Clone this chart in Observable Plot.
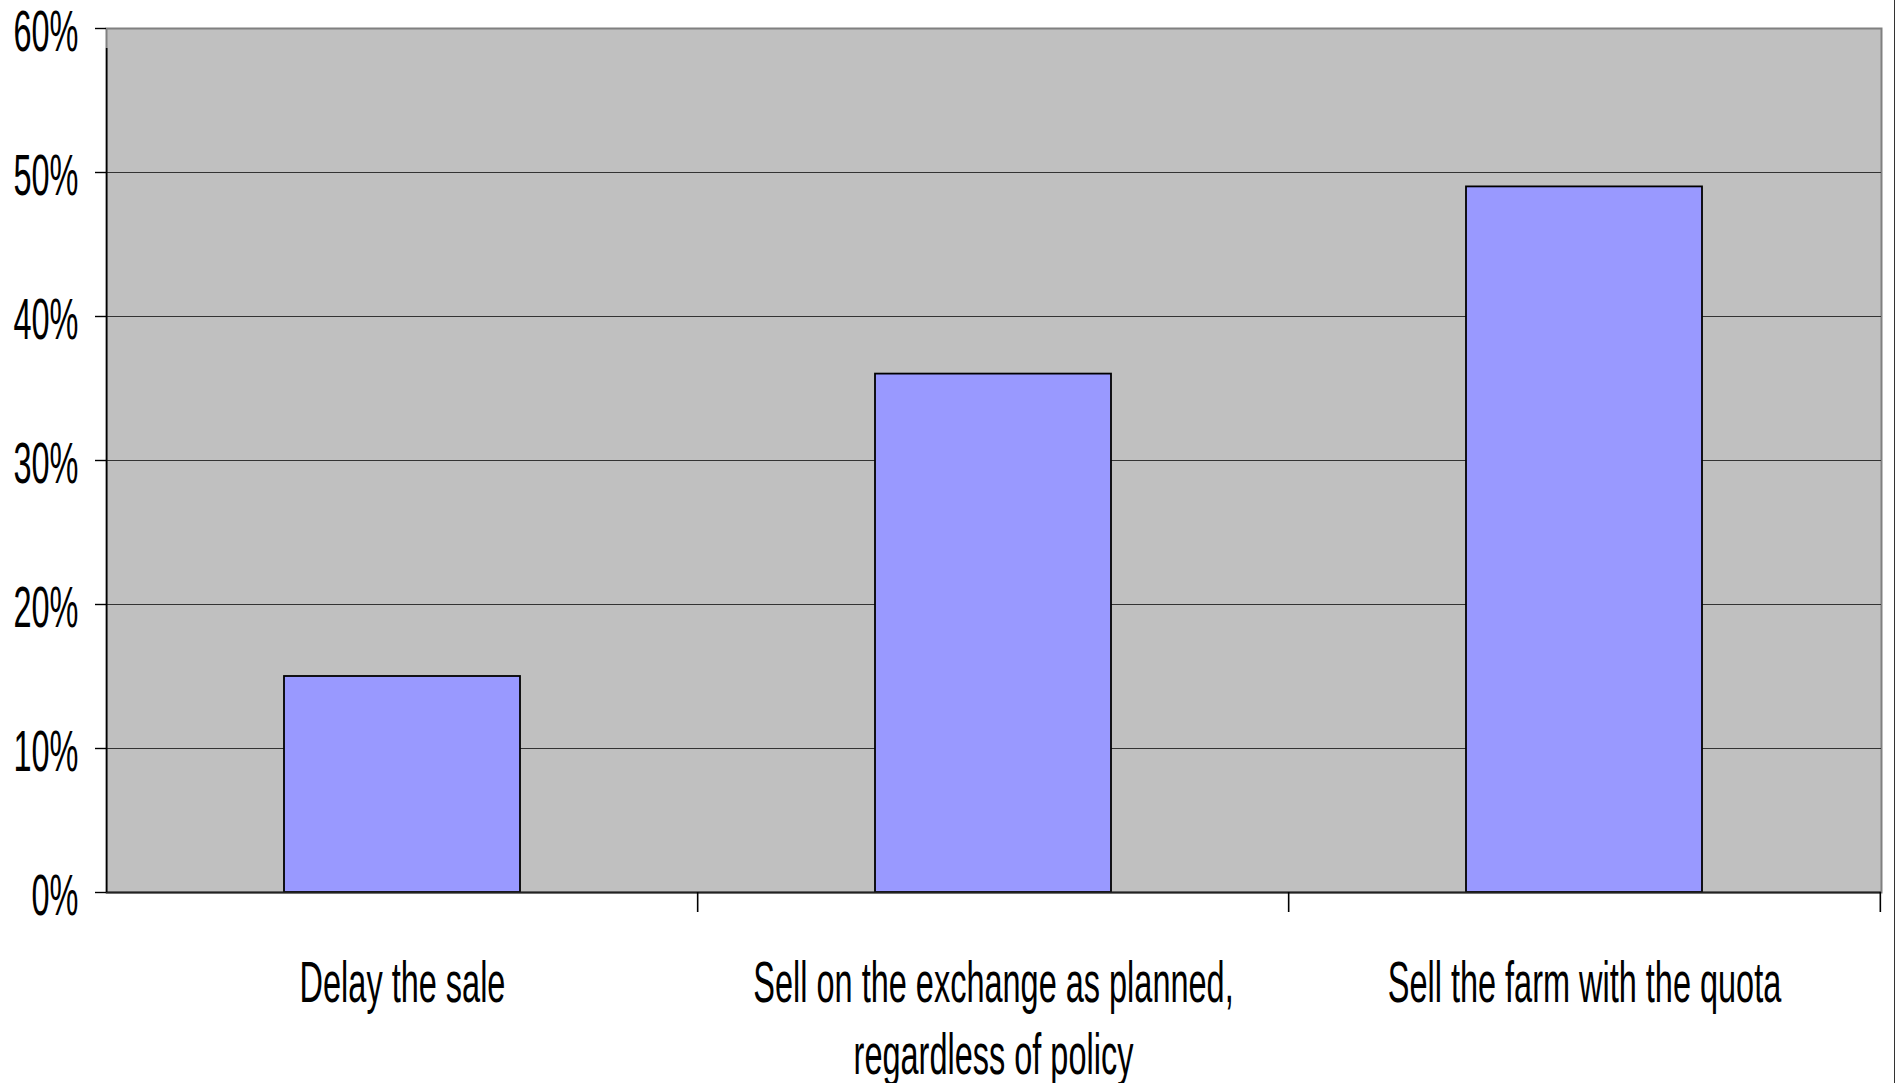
<!DOCTYPE html>
<html>
<head>
<meta charset="utf-8">
<script src="https://cdn.jsdelivr.net/npm/d3@7"></script>
<script src="https://cdn.jsdelivr.net/npm/@observablehq/plot@0.6"></script>
<style>
  html, body { margin: 0; padding: 0; background: #fff; }
  #wrap { position: relative; width: 1896px; height: 1083px; overflow: hidden; }
  #edge { position: absolute; left: 1894px; top: 0; width: 1px; height: 1083px; background: #333; }
  svg text { font-family: "Liberation Sans", Arial, sans-serif; }
</style>
</head>
<body>
<div id="wrap"><div id="edge"></div></div>
<script>
// ---- data ----
const categories = [
  "Delay the sale",
  "Sell on the exchange as planned,\nregardless of policy",
  "Sell the farm with the quota"
];
const shares = [0.15, 0.36, 0.49];
const yTicks = [0, 0.1, 0.2, 0.3, 0.4, 0.5, 0.6];
const gridTicks = [0.1, 0.2, 0.3, 0.4, 0.5];

// ---- layout ----
const W = 1896, H = 1083;
const mL = 106, mR = 15, mT = 28, mB = 191;
const padInner = 0.6, padOuter = 0.3;
const step = (W - mL - mR) / (categories.length - padInner + 2 * padOuter);

const rows = categories.map((c, i) => ({category: c, share: shares[i]}));

const chart = Plot.plot({
  width: W,
  height: H,
  marginLeft: mL,
  marginRight: mR,
  marginTop: mT,
  marginBottom: mB,
  style: {background: "#fff", overflow: "visible"},
  x: {type: "band", domain: categories, paddingInner: padInner, paddingOuter: padOuter, label: null},
  y: {domain: [0, 0.6], label: null},
  marks: [
    Plot.frame({fill: "#C0C0C0", stroke: "#808080", strokeWidth: 2}),
    Plot.gridY(gridTicks, {stroke: "#333", strokeOpacity: 1, strokeWidth: 1.2}),
    Plot.barY(rows, {x: "category", y: "share", fill: "#9999FF", stroke: "#000", strokeWidth: 1.8}),
    Plot.ruleY([0], {stroke: "#222", strokeWidth: 2.2}),
    Plot.ruleX([categories[0]], {x: d => d, y1: 0, y2: 0.6, dx: -step / 2, insetBottom: -20, stroke: "#000", strokeWidth: 1.6}),
    Plot.ruleX(categories.slice(1), {x: d => d, y1: 0, y2: 0, dx: -step / 2, insetBottom: -20, stroke: "#000", strokeWidth: 1.6}),
    Plot.ruleX([categories[categories.length - 1]], {x: d => d, y1: 0, y2: 0, dx: step / 2, insetBottom: -20, stroke: "#000", strokeWidth: 1.6}),
    Plot.axisY({ticks: yTicks, tickFormat: d3.format(".0%"), tickSize: 11, tickPadding: 17, fontSize: 57, stroke: "#000", strokeWidth: 1.4, fill: "#000", text: null}),
    Plot.axisY({ticks: yTicks, tickFormat: d3.format(".0%"), tickSize: 0, tickPadding: 28, fontSize: 57, fill: "#000", dy: 4.5}),
    Plot.axisX({tickSize: 0, tickPadding: 58, fontSize: 57, lineHeight: 1.27, fill: "#000"})
  ]
});

document.getElementById("wrap").prepend(chart);

// condensed glyphs as in the original (narrow font rendering)
function condense(sel) {
  chart.querySelectorAll(sel).forEach(t => {
    const old = t.getAttribute("transform") || "";
    t.setAttribute("transform", `${old} scale(0.57,1)`);
  });
}
condense('g[aria-label="y-axis tick label"] text');
condense('g[aria-label="x-axis tick label"] text');
</script>
</body>
</html>
